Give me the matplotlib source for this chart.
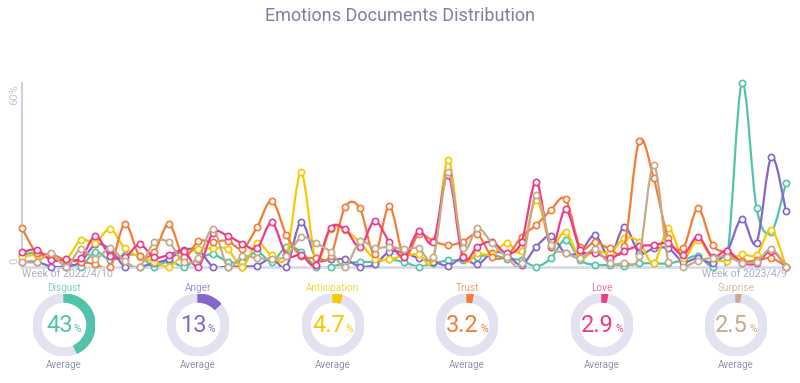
import numpy as np
import matplotlib
matplotlib.use("Agg")
import matplotlib.pyplot as plt
from matplotlib.path import Path
from matplotlib.patches import PathPatch, Wedge

plt.rcParams['font.family'] = ['Roboto', 'DejaVu Sans']

# ---- data ----
weeks = list(range(53))
first_week = "Week of 2022/4/10"
last_week = "Week of 2023/4/9"

emotions = ["Disgust", "Anger", "Anticipation", "Trust", "Love", "Surprise"]
colors = ["#52c3a8", "#8466cc", "#f8c800", "#f47c34", "#ef3a8a", "#c6aa8a"]
averages = [43, 13, 4.7, 3.2, 2.9, 2.5]
average_labels = ["43", "13", "4.7", "3.2", "2.9", "2.5"]

disgust = [3.8, 4.5, 2.7, 1.5, 0, 4.8, 2.1, 3.8, 3.4, 0,
           1.8, 0, 2.5, 4.0, 1.6, 1.6, 4.8, 1.6, 6.4, 4.8,
           0, 0, 1.0, 1.5, 1.5, 2.3, 1.4, 0, 1.0, 2.0,
           2.0, 3.2, 3.8, 2.5, 2.1, 0, 2.7, 8.7, 2.1, 0.5,
           0.5, 0.2, 1.0, 1.0, 1.0, 2.1, 3.4, 0, 3.0, 60,
           19, 11.3, 27.4]
anger = [1.5, 1.5, 0, 0, 1.5, 7.2, 5.6, 0, 0, 1.0,
         2.5, 5.3, 5.4, 0, 0, 0, 0.3, 2.7, 0, 14.6,
         2.7, 2.3, 2.3, 0, 0.7, 4.8, 4.5, 2.7, 1.6, 0.3,
         2.7, 0.7, 4.5, 4.0, 0.5, 6.5, 10.0, 4.3, 4.8, 10.3,
         3.2, 13.0, 4.5, 5.9, 5.9, 1.6, 2.7, 1.3, 5.0, 15.7,
         7.8, 35.7, 18.2]
anticipation = [3.1, 3.8, 2.7, 2.3, 8.7, 7.8, 12.3, 5.9, 3.2, 1.6,
                0, 3.8, 5.6, 5.9, 5.7, 0, 7.7, 3.6, 3.6, 30.8,
                2.0, 12.3, 12.0, 7.8, 2.6, 2.3, 3.6, 4.0, 2.7, 35.0,
                3.5, 4.3, 4.0, 7.8, 5.0, 21.7, 7.0, 11.4, 2.7, 5.5,
                4.3, 9.2, 8.1, 1.0, 12.5, 2.7, 8.7, 2.7, 1.9, 4.0,
                3.8, 12.1, 0]
trust = [12.5, 4.5, 4.1, 2.0, 1.6, 0.7, 0, 13.9, 3.5, 4.8,
         13.9, 3.2, 8.2, 8.1, 8.4, 5.8, 12.9, 21.5, 10.2, 3.4,
         2.9, 3.4, 19.5, 19.0, 4.0, 19.8, 3.2, 10.5, 8.3, 7.0,
         8.1, 10.5, 3.2, 3.5, 9.7, 13.6, 18.5, 22.0, 6.3, 8.1,
         5.9, 6.7, 41.0, 28.8, 9.2, 6.1, 19.0, 7.0, 4.5, 1.8,
         2.0, 2.7, 0]
love = [4.6, 5.5, 2.0, 2.3, 2.7, 10.0, 3.5, 3.0, 7.2, 3.0,
        3.8, 5.1, 0, 11.0, 10.0, 7.5, 6.0, 14.4, 3.7, 3.8,
        0.5, 12.7, 12.2, 6.5, 14.9, 8.1, 3.2, 11.7, 8.1, 29.9,
        3.2, 6.5, 8.1, 4.3, 8.1, 27.7, 6.5, 18.7, 5.5, 4.5,
        2.7, 5.1, 6.7, 7.0, 7.6, 3.8, 9.8, 3.2, 5.2, 1.3,
        1.0, 5.2, 0]
surprise = [1.6, 1.5, 4.3, 0, 5.7, 2.5, 5.9, 1.8, 0, 7.9,
            7.9, 1.4, 2.9, 12.2, 0, 3.4, 2.7, 2.5, 3.4, 9.5,
            7.6, 4.8, 0, 8.2, 6.0, 6.5, 5.7, 6.0, 3.2, 31.0,
            6.0, 12.5, 7.6, 3.2, 1.0, 23.4, 7.0, 4.5, 2.7, 5.6,
            1.0, 1.3, 3.4, 33.2, 1.6, 0, 1.8, 2.9, 3.2, 1.3,
            1.6, 5.7, 0]

series = [disgust, anger, anticipation, trust, love, surprise]

W, H = 800, 383
fig = plt.figure(figsize=(8, 3.83), dpi=100)


def fx(px):
    return px / W


def fy(py):
    return 1 - py / H


def smooth_path(xs, ys):
    # cardinal (catmull-rom) curve through the points
    pts = np.column_stack([xs, ys]).astype(float)
    n = len(pts)
    verts = [pts[0]]
    codes = [Path.MOVETO]
    for i in range(n - 1):
        p0 = pts[max(i - 1, 0)]
        p1 = pts[i]
        p2 = pts[i + 1]
        p3 = pts[min(i + 2, n - 1)]
        verts += [p1 + (p2 - p0) / 6, p2 - (p3 - p1) / 6, p2]
        codes += [Path.CURVE4] * 3
    return Path(verts, codes)


# ---- line chart ----
ax = fig.add_axes([fx(22), fy(266.5), fx(786) - fx(22), (266.5 - 77) / H])
ax.set_xlim(0, 52)
ax.set_ylim(0, 62)
ax.set_xticks([])
ax.set_yticks([])
for s in ["top", "right"]:
    ax.spines[s].set_visible(False)
ax.spines["left"].set_color("#cdd0e0")
ax.spines["left"].set_linewidth(1.5)
ax.spines["left"].set_bounds(0, 60)
ax.spines["bottom"].set_color("#d8dbe8")
ax.spines["bottom"].set_linewidth(2)

for k, vals in enumerate(series):
    c = colors[k]
    ax.add_patch(PathPatch(smooth_path(weeks, vals), facecolor="none",
                           edgecolor=c, lw=1.6, zorder=2 + k * 2))
    ax.plot(weeks, vals, "o", mfc="white", mec=c, ms=4.5, mew=1.2,
            clip_on=False, zorder=3 + k * 2)

fig.text(0.5, fy(16), "Emotions Documents Distribution", ha="center",
         va="center", fontsize=13, color="#7a819f")
fig.text(fx(14), fy(84), "60%", rotation=90, ha="center", va="top",
         fontsize=8, color="#c3c7d9")
fig.text(fx(14), fy(264), "0", rotation=90, ha="center", va="bottom",
         fontsize=8, color="#c3c7d9")
fig.text(fx(22), fy(274), first_week, ha="left", va="center",
         fontsize=7.6, color="#aab0c6")
fig.text(fx(787), fy(274), last_week, ha="right", va="center",
         fontsize=7.6, color="#aab0c6")

# ---- gauges ----
gauge_x = [64, 198, 333, 467, 602, 736]
cy, r = 325, 31
renderer = fig.canvas.get_renderer()
for i, name in enumerate(emotions):
    cx = gauge_x[i]
    gax = fig.add_axes([fx(cx - r), fy(cy + r), 2 * r / W, 2 * r / H])
    gax.set_xlim(-1, 1)
    gax.set_ylim(-1, 1)
    gax.axis("off")
    gax.add_patch(Wedge((0, 0), 1, 0, 360, width=0.26, color="#e2e2f0"))
    gax.add_patch(Wedge((0, 0), 1, 90 - averages[i] * 3.6, 90, width=0.26,
                        color=colors[i]))

    t1 = fig.text(0, 0, average_labels[i], fontsize=17, color=colors[i],
                  ha="left", va="baseline")
    t2 = fig.text(0, 0, "%", fontsize=7.5, color=colors[i], ha="left",
                  va="baseline")
    w1 = t1.get_window_extent(renderer).width
    w2 = t2.get_window_extent(renderer).width
    left = cx - (w1 + w2 + 1) / 2
    t1.set_position((fx(left), fy(332.5)))
    t2.set_position((fx(left + w1 + 1), fy(332.5)))

    fig.text(fx(cx), fy(288), name, ha="center", va="center", fontsize=7.2,
             color=colors[i], alpha=0.75)
    fig.text(fx(cx), fy(365.5), "Average", ha="center", va="center",
             fontsize=7, color="#8f94ad")

fig.savefig("out.png", dpi=100)
